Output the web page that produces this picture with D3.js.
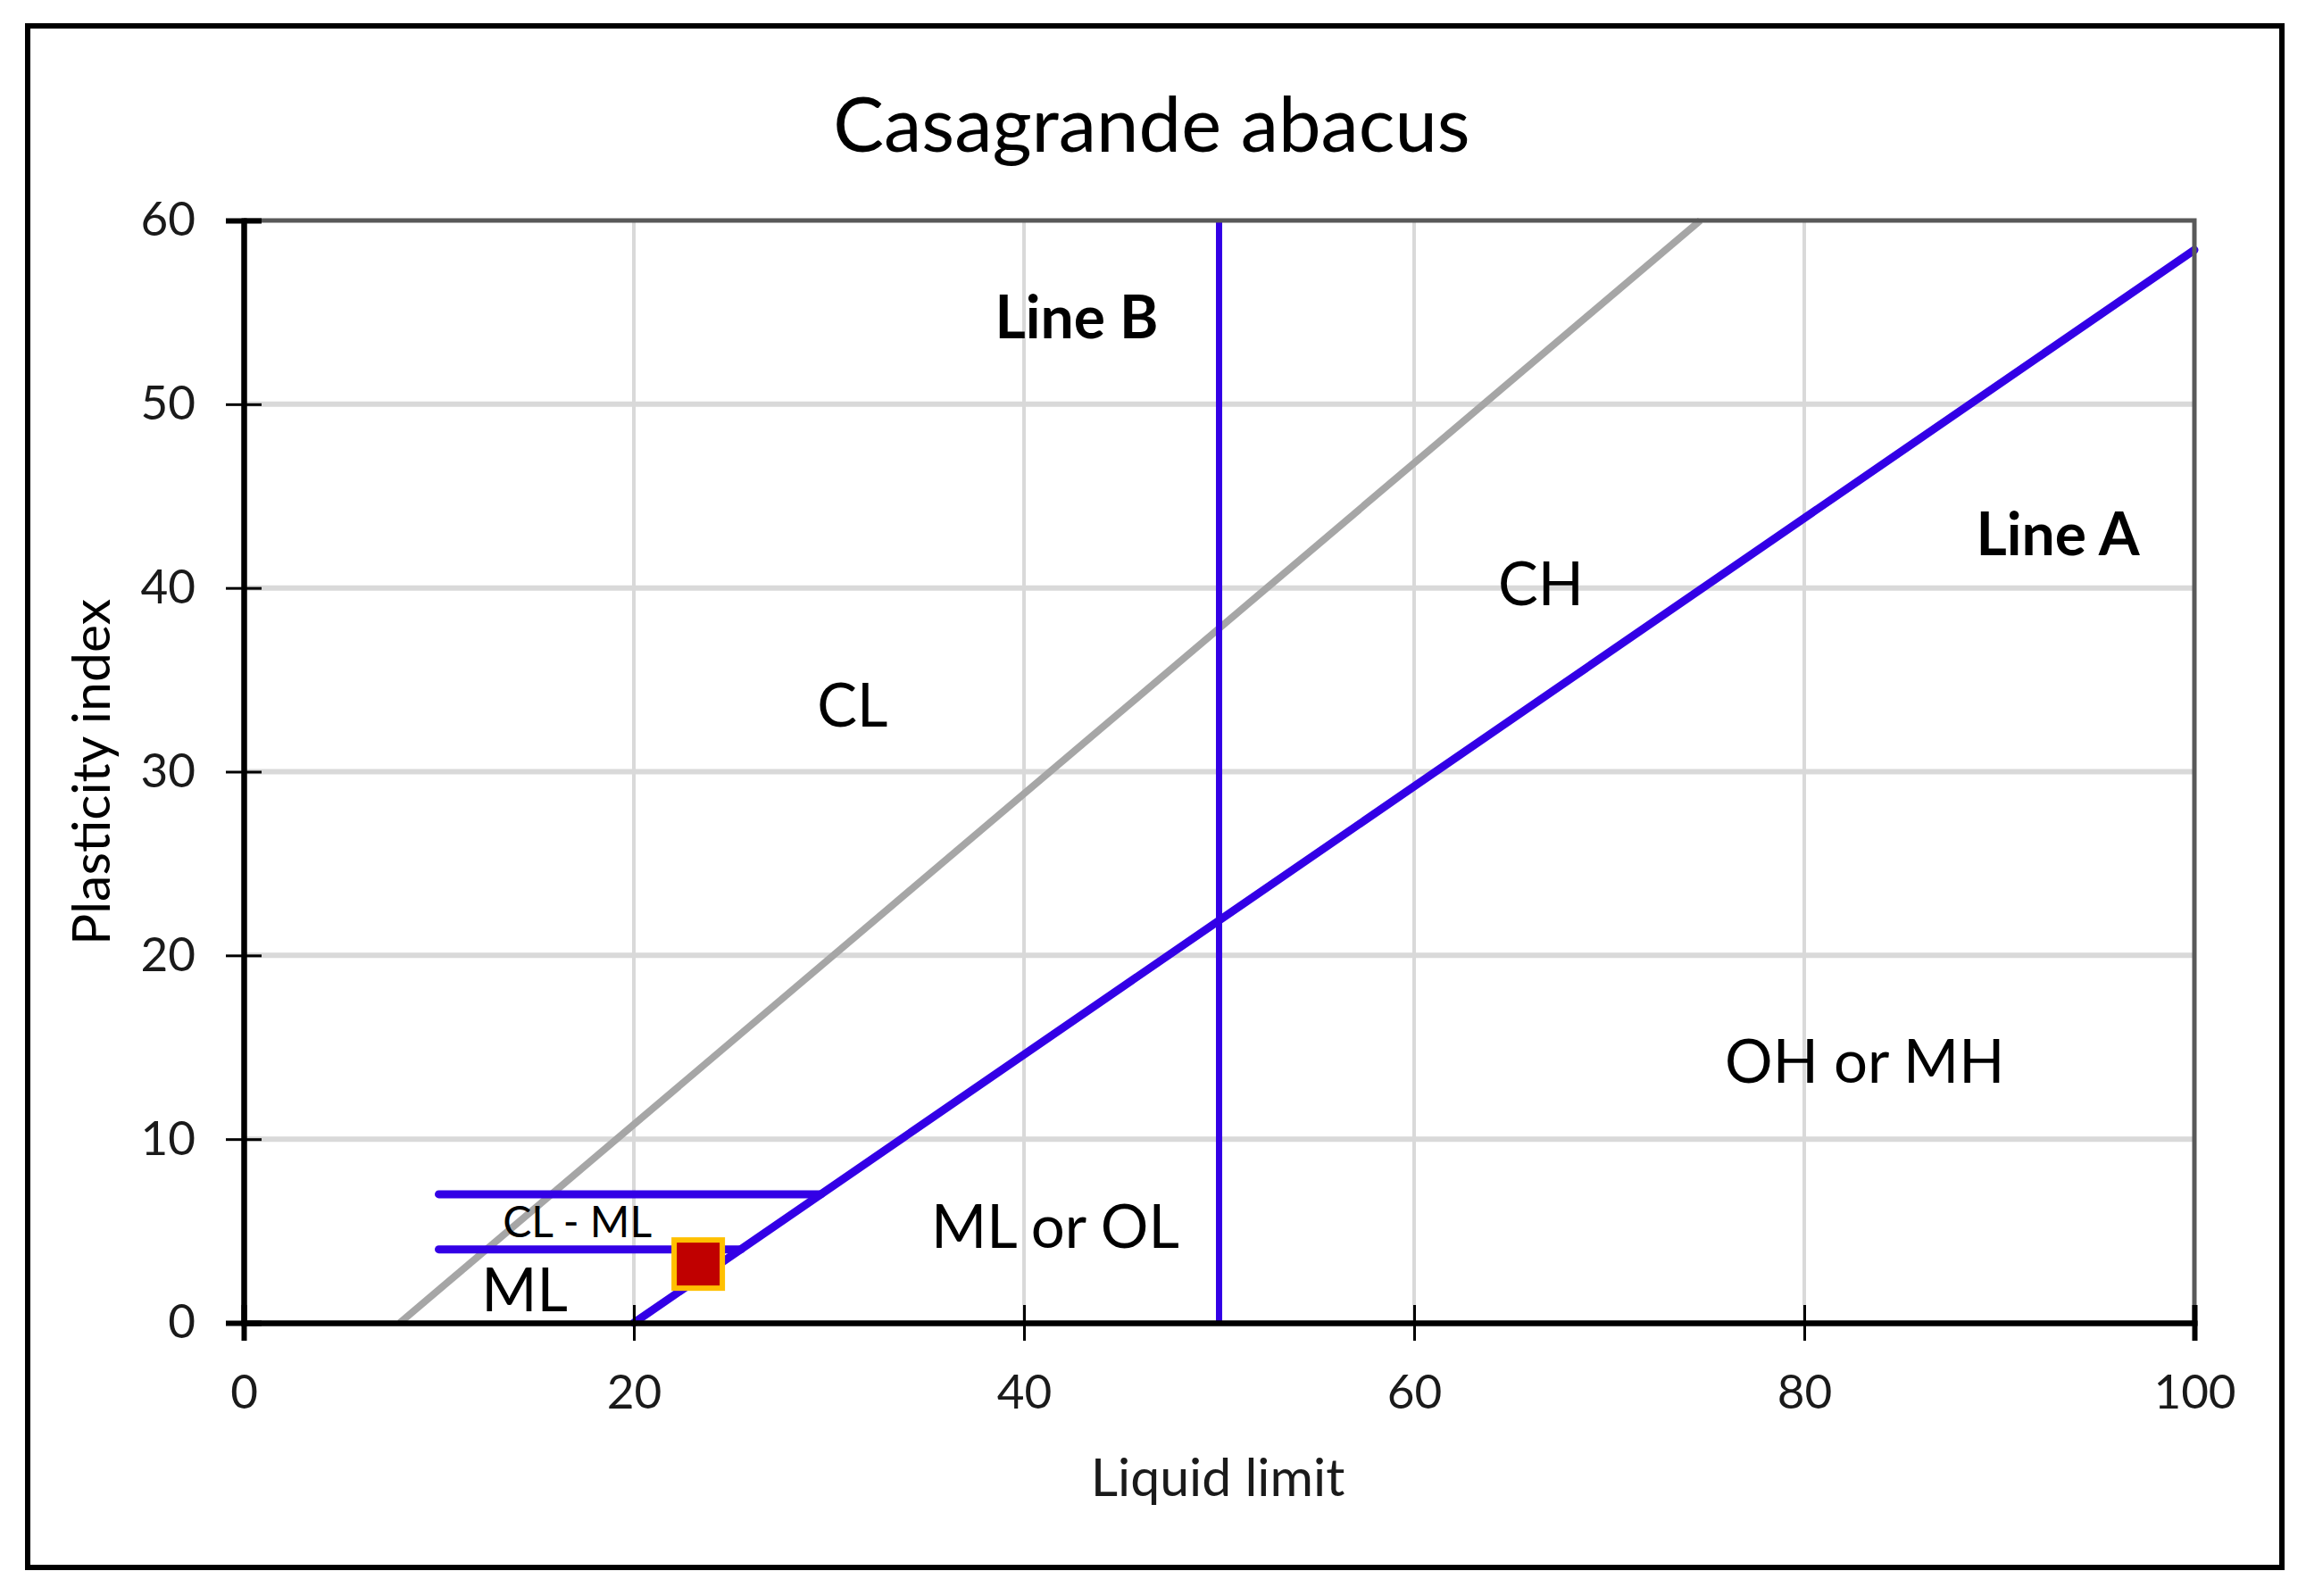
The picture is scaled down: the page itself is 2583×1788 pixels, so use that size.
<!DOCTYPE html>
<html>
<head>
<meta charset="utf-8">
<script src="https://cdn.jsdelivr.net/npm/d3@7"></script>
<style>
  body { margin: 0; background: #fff; }
  svg { display: block; font-family: Lato, "Open Sans", sans-serif; }
</style>
</head>
<body>
<svg width="2583" height="1788"></svg>
<script>
// chart values
var xTicks = [0, 20, 40, 60, 80, 100];
var yTicks = [0, 10, 20, 30, 40, 50, 60];
var uLine = [[8, 0], [74.67, 60]];
var lineA = [[20, 0], [100, 58.4]];
var lineB = [[50, 0], [50, 60]];
var clmlTop = [[10, 7], [29.6, 7]];
var clmlBottom = [[10, 4], [25.5, 4]];
var sample = [[23.3, 3.2]];
var zoneNames = ["CL", "CH", "OH or MH", "ML or OL", "ML", "CL - ML"];
var zoneX = [31.2, 66.5, 83.1, 41.6, 14.4, 17.1];
var zoneY = [33.6, 40.2, 14.2, 5.2, 1.75, 5.5];
var lineNames = ["Line B", "Line A"];
var lineNameX = [42.7, 93.0];
var lineNameY = [54.7, 42.9];

var svg = d3.select("svg");
var marge = {left: 273, right: 2458, top: 247, bottom: 1482};

var x = d3.scaleLinear().domain([0, 100]).range([marge.left, marge.right]);
var y = d3.scaleLinear().domain([0, 60]).range([marge.bottom, marge.top]);
var line = d3.line().x(function(d){ return x(d[0]); }).y(function(d){ return y(d[1]); });

// outer frame
svg.append("rect")
    .attr("x", 31).attr("y", 29)
    .attr("width", 2525).attr("height", 1727)
    .attr("fill", "none").attr("stroke", "#000").attr("stroke-width", 6);

svg.append("text")
    .attr("x", 1290).attr("y", 170)
    .attr("text-anchor", "middle")
    .attr("font-size", 85)
    .attr("fill", "#000")
    .text("Casagrande abacus");

// grid
var grid = svg.append("g");
grid.selectAll(".gy").data(yTicks.slice(1, -1)).enter().append("line")
    .attr("x1", marge.left).attr("x2", marge.right)
    .attr("y1", function(d){ return y(d); }).attr("y2", function(d){ return y(d); })
    .attr("stroke", "#d9d9d9").attr("stroke-width", 6);
grid.selectAll(".gx").data(xTicks.slice(1, -1)).enter().append("line")
    .attr("y1", marge.top).attr("y2", marge.bottom)
    .attr("x1", function(d){ return x(d); }).attr("x2", function(d){ return x(d); })
    .attr("stroke", "#d9d9d9").attr("stroke-width", 4);

// series
svg.append("path").datum(uLine).attr("d", line)
    .attr("fill", "none").attr("stroke", "#a6a6a6").attr("stroke-width", 8);
[lineA, clmlTop, clmlBottom].forEach(function(s){
    svg.append("path").datum(s).attr("d", line)
        .attr("fill", "none").attr("stroke", "#3300e6").attr("stroke-width", 9)
        .attr("stroke-linecap", "round");
});
svg.append("path").datum(lineB).attr("d", line)
    .attr("fill", "none").attr("stroke", "#3300e6").attr("stroke-width", 7);

// plot frame top / right
svg.append("path")
    .attr("d", "M" + marge.left + "," + marge.top + "H" + marge.right + "V" + marge.bottom)
    .attr("fill", "none").attr("stroke", "#595959").attr("stroke-width", 5);

svg.selectAll(".pt").data(sample).enter().append("rect")
    .attr("x", function(d){ return x(d[0]) - 27; })
    .attr("y", function(d){ return y(d[1]) - 27; })
    .attr("width", 54).attr("height", 54)
    .attr("fill", "#c00000").attr("stroke", "#ffc000").attr("stroke-width", 6);

// axes
var xAxis = svg.append("g").attr("transform", "translate(0," + marge.bottom + ")")
    .call(d3.axisBottom(x).tickValues(xTicks).tickSize(20).tickPadding(38));
svg.append("g").attr("transform", "translate(0," + marge.bottom + ")")
    .call(d3.axisTop(x).tickValues(xTicks).tickSize(20).tickFormat(""));
var yAxis = svg.append("g").attr("transform", "translate(" + marge.left + ",0)")
    .call(d3.axisLeft(y).tickValues(yTicks).tickSize(20).tickPadding(34));
svg.append("g").attr("transform", "translate(" + marge.left + ",0)")
    .call(d3.axisRight(y).tickValues(yTicks).tickSize(20).tickFormat(""));
svg.selectAll(".domain").attr("stroke", "#000").attr("stroke-width", 6);
svg.selectAll(".tick line").attr("stroke", "#000").attr("stroke-width", 3);
svg.selectAll(".tick text")
    .attr("font-size", 53).attr("fill", "#1a1a1a")
    .attr("font-family", "Lato, sans-serif");
xAxis.selectAll(".tick text").attr("dy", "0.72em");

svg.append("text")
    .attr("x", 1364).attr("y", 1655).attr("dy", "0.35em")
    .attr("text-anchor", "middle").attr("font-size", 59).attr("fill", "#1a1a1a")
    .text("Liquid limit");
svg.append("text")
    .attr("transform", "translate(102,865) rotate(-90)")
    .attr("dy", "0.35em")
    .attr("text-anchor", "middle").attr("font-size", 59).attr("fill", "#000")
    .text("Plasticity index");

// zone labels
svg.selectAll(".zone").data(zoneNames).enter().append("text")
    .attr("x", function(d, i){ return x(zoneX[i]); })
    .attr("y", function(d, i){ return y(zoneY[i]); })
    .attr("dy", "0.35em")
    .attr("text-anchor", "middle")
    .attr("font-size", function(d){ return d == "CL - ML" ? 48 : 67; })
    .attr("fill", "#000")
    .text(function(d){ return d; });
svg.selectAll(".lname").data(lineNames).enter().append("text")
    .attr("x", function(d, i){ return x(lineNameX[i]); })
    .attr("y", function(d, i){ return y(lineNameY[i]); })
    .attr("dy", "0.35em")
    .attr("text-anchor", "middle")
    .attr("font-size", 66).attr("font-weight", "bold")
    .attr("fill", "#000")
    .text(function(d){ return d; });
</script>
</body>
</html>
